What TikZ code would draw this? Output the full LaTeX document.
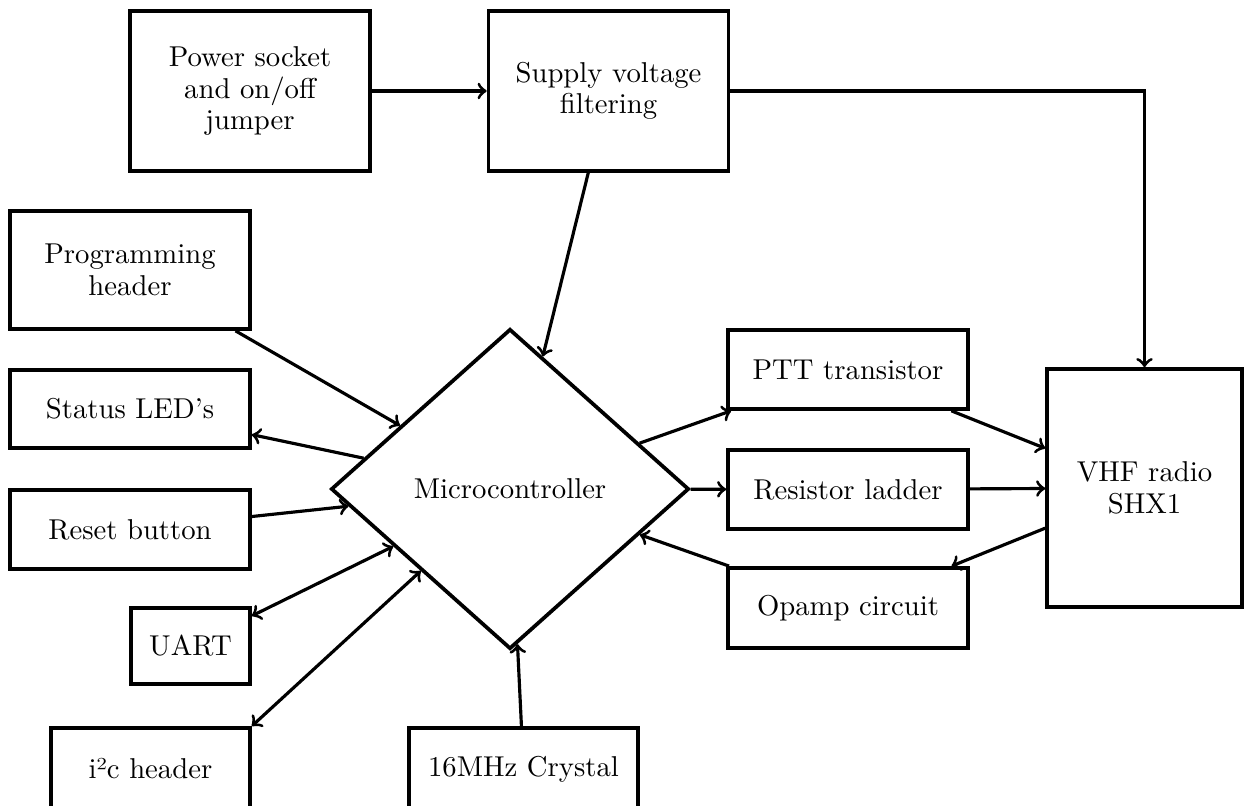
\documentclass[tikz,border=0pt]{standalone}
\usepackage{fontspec}
\usetikzlibrary{shapes.geometric}
\begin{document}
\begin{tikzpicture}[x=0.3484pt,y=-0.3484pt,
  block/.style={draw,line width=1.3pt,align=center,
    font=\fontsize{10}{11}\selectfont,inner sep=2pt},
  link/.style={->,line width=1.1pt},
  duplex/.style={<->,line width=1.1pt}]
\useasboundingbox (0,0) rectangle (1245,806);

% power path
\node[block,minimum width=83.6pt,minimum height=55.7pt] (power) at (250,91)
  {Power socket\\and on/off\\jumper};
\node[block,minimum width=83.6pt,minimum height=55.7pt] (supply) at (608.5,91)
  {Supply voltage\\filtering};

% left column
\node[block,minimum width=83.6pt,minimum height=41.1pt] (prog) at (130,270)
  {Programming\\header};
\node[block,minimum width=83.6pt,minimum height=27.4pt] (status) at (130,409)
  {Status LED’s};
\node[block,minimum width=83.6pt,minimum height=27.5pt] (reset) at (130,529.5)
  {Reset button};
\node[block,minimum width=41.4pt,minimum height=26.5pt] (uart) at (190.5,646)
  {UART};
\node[block,minimum width=69.3pt,minimum height=28.6pt] (i2c) at (150.5,769)
  {i²c header};
\node[block,minimum width=79.8pt,minimum height=28.6pt] (xtal) at (523.5,769)
  {16MHz Crystal};

% controller
\node[block,shape=diamond,minimum width=124.7pt,minimum height=111.5pt] (mcu) at (510,489)
  {Microcontroller};

% radio side
\node[block,minimum width=83.6pt,minimum height=27.5pt] (ptt) at (848,369.5)
  {PTT transistor};
\node[block,minimum width=83.6pt,minimum height=27.5pt] (ladder) at (848,489.5)
  {Resistor ladder};
\node[block,minimum width=83.6pt,minimum height=27.9pt] (opamp) at (848,608)
  {Opamp circuit};
\node[block,minimum width=67.9pt,minimum height=82.9pt] (vhf) at (1144.5,488)
  {VHF radio\\SHX1};

% connections
\draw[link] (power) -- (supply);
\draw[link] (supply) -- (mcu);
\draw[link] (supply.east) -| (vhf.north);
\draw[link] (prog) -- (mcu);
\draw[link] (mcu) -- (status);
\draw[link] (reset) -- (mcu);
\draw[duplex] (uart) -- (mcu);
\draw[duplex] (i2c.north east) -- (mcu);
\draw[link] (xtal) -- (mcu);
\draw[link] (mcu) -- (ptt);
\draw[link] (mcu) -- (ladder);
\draw[link] (opamp) -- (mcu);
\draw[link] (ptt) -- (vhf);
\draw[link] (ladder) -- (vhf);
\draw[link] (vhf) -- (opamp);
\end{tikzpicture}
\end{document}
